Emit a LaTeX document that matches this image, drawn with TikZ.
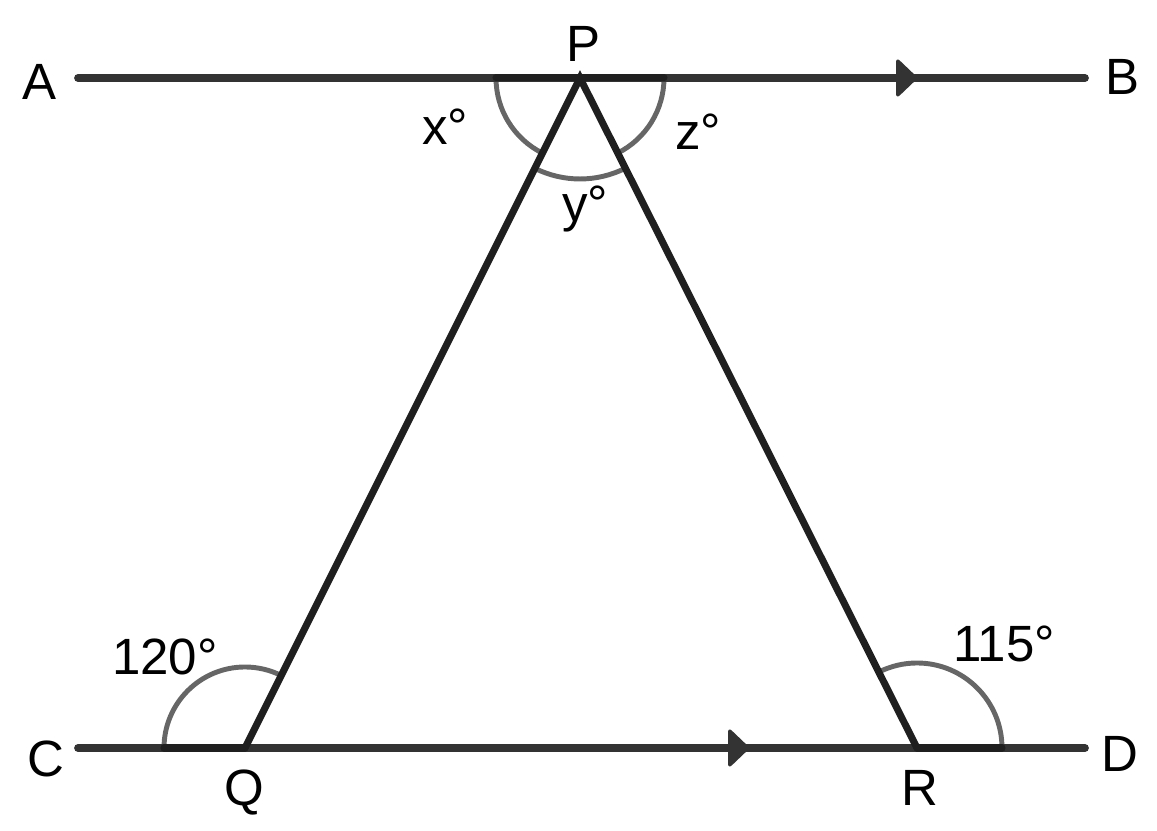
\documentclass[tikz,border=0pt]{standalone}
\usepackage{fontspec}
\setmainfont{Liberation Sans}
\usetikzlibrary{calc}
\begin{document}
\begin{tikzpicture}[x=0.01cm,y=0.01cm,
  parline/.style={line width=2.2pt,color=black!80,line cap=round},
  side/.style={line width=2pt,color=black!88,line cap=round},
  anglearc/.style={line width=1.4pt,color=black!60},
  lbl/.style={font=\fontsize{14.5}{16}\selectfont,inner sep=0pt,anchor=base}]
\useasboundingbox (0,0) rectangle (1157,831);
\coordinate (A) at (78,753);
\coordinate (B) at (1085,753);
\coordinate (C) at (78,83);
\coordinate (D) at (1085,83);
\coordinate (P) at (580,753);
\coordinate (Q) at (245,83);
\coordinate (R) at (917,83);
% angle marks
\draw[anglearc] ($(P)+(-84,0)$) arc[start angle=180, end angle=243.4, radius=84];
\draw[anglearc] ($(P)+(243.4:101)$) arc[start angle=243.4, end angle=296.7, radius=101];
\draw[anglearc] ($(P)+(296.7:84)$) arc[start angle=296.7, end angle=360, radius=84];
\draw[anglearc] ($(Q)+(-81,0)$) arc[start angle=180, end angle=63.4, radius=81];
\draw[anglearc] ($(R)+(85,0)$) arc[start angle=0, end angle=116.7, radius=85];
% parallel lines
\draw[parline] (A) -- (B);
\draw[parline] (C) -- (D);
\fill[black!80, rounded corners=1.5pt] (896,774) -- (918,753) -- (896,732) -- cycle;
\fill[black!80, rounded corners=1.5pt] (728,104) -- (750,83) -- (728,62) -- cycle;
% triangle
\draw[side] (Q) -- (P) -- (R);
\draw[side] ($(P)+(-84,0)$) -- ($(P)+(84,0)$);
\draw[side] ($(Q)+(-81,0)$) -- (Q);
\draw[side] (R) -- ($(R)+(85,0)$);
% labels
\node[lbl] at (40,731) {A};
\node[lbl] at (1122,736) {B};
\node[lbl] at (46,54) {C};
\node[lbl] at (1120,59) {D};
\node[lbl] at (583,769) {P};
\node[lbl] at (244,25) {Q};
\node[lbl] at (920,25) {R};
\node[lbl] at (445,686) {x°};
\node[lbl] at (698,681) {z°};
\node[lbl] at (585,609) {y°};
\node[lbl] at (165,156) {120°};
\node[lbl] at (1004,169) {115°};
\end{tikzpicture}
\end{document}
